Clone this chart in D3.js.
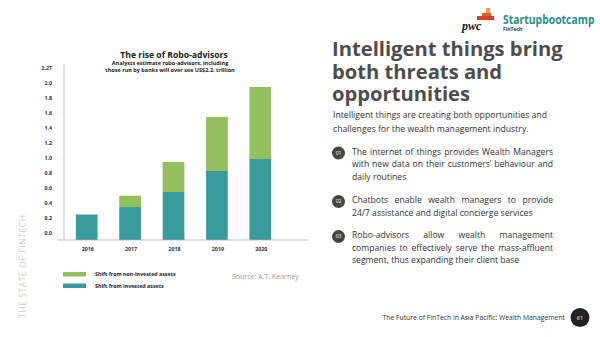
<!DOCTYPE html>
<html lang="en">
<head>
<meta charset="utf-8">
<title>The rise of Robo-advisors</title>
<style>
  body { margin: 0; background: #fff; }
  svg { display: block; font-family: "Open Sans", sans-serif; }
</style>
</head>
<body>
<svg id="page" width="600" height="337"></svg>
<script src="https://cdn.jsdelivr.net/npm/d3@7"></script>
<script>
  // chart data (trillions US$)
  var years = ["2016", "2017", "2018", "2019", "2020"];
  var invested = [0.34, 0.44, 0.64, 0.92, 1.08];
  var nonInvested = [0.0, 0.15, 0.40, 0.72, 0.96];
  var tickValues = [0, 0.2, 0.4, 0.6, 0.8, 1.0, 1.2, 1.4, 1.6, 1.8, 2.0, 2.2];
  var tickLabels = ["0.0", "0.2", "0.4", "0.6", "0.8", "1.0", "1.2", "1.4", "1.6", "1.8", "2.0", "2.2T"];
  var seriesNames = ["Shift from non-invested assets", "Shift from invested assets"];

  var teal = "#3a9b9c", green = "#94bf5f";

  var svg = d3.select("#page");

  // ---- chart ----
  var x = d3.scaleBand()
    .domain(years)
    .range([65, 282])
    .paddingInner(0.5)
    .paddingOuter(0.25);

  var y = d3.scaleLinear()
    .domain([0, 2.2])
    .range([240, 75]);

  var rows = years.map((yr, i) => ({year: yr, invested: invested[i], nonInvested: nonInvested[i]}));
  var stack = d3.stack().keys(["invested", "nonInvested"])(rows);

  // left axis line
  svg.append("line")
    .attr("x1", 64).attr("x2", 64)
    .attr("y1", 64).attr("y2", 240)
    .attr("stroke", "#c8c8c8").attr("stroke-width", 1);

  svg.append("g")
    .selectAll("text")
    .data(tickValues)
    .join("text")
    .attr("x", 52)
    .attr("y", d => y(d) - 5)
    .attr("text-anchor", "end")
    .attr("font-size", 5.3)
    .attr("font-weight", "bold")
    .attr("fill", "#333")
    .text((d, i) => tickLabels[i]);

  svg.append("g")
    .selectAll("g")
    .data(stack)
    .join("g")
    .attr("fill", (d, i) => i == 0 ? teal : green)
    .selectAll("rect")
    .data(d => d)
    .join("rect")
    .attr("x", d => x(d.data.year))
    .attr("width", x.bandwidth())
    .attr("y", d => y(d[1]))
    .attr("height", d => y(d[0]) - y(d[1]));

  // baseline
  svg.append("line")
    .attr("x1", 57).attr("x2", 308)
    .attr("y1", 240).attr("y2", 240)
    .attr("stroke", "#b0b0b0").attr("stroke-width", 0.8);

  svg.append("g")
    .selectAll("text")
    .data(years)
    .join("text")
    .attr("x", d => x(d) + x.bandwidth() / 2 + 1)
    .attr("y", 251)
    .attr("text-anchor", "middle")
    .attr("font-size", 5.3)
    .attr("font-weight", "bold")
    .attr("fill", "#333")
    .text(d => d);

  // title
  svg.append("text")
    .attr("x", 174).attr("y", 57.5)
    .attr("text-anchor", "middle")
    .attr("font-size", 8.6).attr("font-weight", "bold").attr("fill", "#222")
    .text("The rise of Robo-advisors");
  svg.append("text")
    .attr("x", 170).attr("y", 65)
    .attr("text-anchor", "middle")
    .attr("font-size", 5.5).attr("font-weight", "bold").attr("fill", "#222")
    .text("Analysts estimate robo-advisors, including");
  svg.append("text")
    .attr("x", 170).attr("y", 71.5)
    .attr("text-anchor", "middle")
    .attr("font-size", 5.5).attr("font-weight", "bold").attr("fill", "#222")
    .text("those run by banks will over see US$2.2. trillion");

  // legend
  var leg = svg.append("g").selectAll("g")
    .data(seriesNames)
    .join("g")
    .attr("transform", (d, i) => "translate(63," + (272 + i * 11.5) + ")");
  leg.append("rect")
    .attr("width", 23).attr("height", 4.5)
    .attr("fill", (d, i) => i == 0 ? green : teal);
  leg.append("text")
    .attr("x", 32).attr("y", 4)
    .attr("font-size", 5.3).attr("font-weight", "bold").attr("fill", "#222")
    .text(d => d);

  svg.append("text")
    .attr("x", 232).attr("y", 279)
    .attr("font-size", 7).attr("fill", "#999")
    .text("Source: A.T. Kearney");

  // side label
  svg.append("text")
    .attr("transform", "translate(26,318) rotate(-90)")
    .attr("font-size", 8.5).attr("fill", "#d0d0d0")
    .attr("letter-spacing", 0.6)
    .text("THE STATE OF FINTECH");

  // ---- right column ----
  var heading = ["Intelligent things bring", "both threats and", "opportunities"];
  svg.append("text")
    .attr("font-size", 20.2).attr("font-weight", "bold").attr("fill", "#4d4d4d")
    .selectAll("tspan")
    .data(heading)
    .join("tspan")
    .attr("x", 332)
    .attr("y", (d, i) => 56 + i * 22.5)
    .text(d => d);

  var intro = ["Intelligent things are creating both opportunities and",
               "challenges for the wealth management industry."];
  svg.append("g").selectAll("text")
    .data(intro)
    .join("text")
    .attr("x", 333)
    .attr("y", (d, i) => 118 + i * 13.5)
    .attr("font-size", 8.7).attr("fill", "#333")
    .text(d => d);

  var bullets = [
    {num: "01", cy: 153, lines: ["The internet of things provides Wealth Managers",
                                "with new data on their customers\u2019 behaviour and",
                                "daily routines"]},
    {num: "02", cy: 201.5, lines: ["Chatbots enable wealth managers to provide",
                                  "24/7 assistance and digital concierge services"]},
    {num: "03", cy: 236.5, lines: ["Robo-advisors allow wealth management",
                                  "companies to effectively serve the mass-affluent",
                                  "segment, thus expanding their client base"]}
  ];
  var textLeft = 352, textRight = 553;

  var b = svg.append("g").selectAll("g")
    .data(bullets)
    .join("g");
  b.append("circle")
    .attr("cx", 338.5).attr("cy", d => d.cy)
    .attr("r", 6.5).attr("fill", "#454545");
  b.append("text")
    .attr("x", 338.5).attr("y", d => d.cy + 1.8)
    .attr("text-anchor", "middle")
    .attr("font-size", 5).attr("fill", "#fff")
    .text(d => d.num);
  b.each(function(d) {
    var g = d3.select(this);
    d.lines.forEach((ln, i) => {
      var t = g.append("text")
        .attr("x", textLeft)
        .attr("y", d.cy + 1.5 + i * 12.5)
        .attr("font-size", 8.6).attr("fill", "#333")
        .text(ln);
      // justify every line except the last of the paragraph
      if (i < d.lines.length - 1) {
        var w = t.node().getComputedTextLength();
        var gaps = ln.split(" ").length - 1;
        var extra = (textRight - textLeft - w) / gaps;
        if (gaps > 0 && extra > 0) t.attr("word-spacing", extra);
      }
    });
  });

  // footer
  svg.append("text")
    .attr("x", 565).attr("y", 320)
    .attr("text-anchor", "end")
    .attr("font-size", 6.8).attr("fill", "#333")
    .text("The Future of FinTech in Asia Pacific: Wealth Management");
  svg.append("circle")
    .attr("cx", 580).attr("cy", 317.5).attr("r", 9.5).attr("fill", "#222");
  svg.append("text")
    .attr("x", 580).attr("y", 319.5)
    .attr("text-anchor", "middle")
    .attr("font-size", 5.5).attr("fill", "#fff")
    .text("61");

  // logos
  var logo = svg.append("g");
  logo.append("rect").attr("x", 486).attr("y", 8).attr("width", 4).attr("height", 8).attr("fill", "#e8a33c");
  logo.append("rect").attr("x", 482).attr("y", 13).attr("width", 9).attr("height", 6).attr("fill", "#e0602a");
  logo.append("rect").attr("x", 477).attr("y", 16).attr("width", 17).attr("height", 4).attr("fill", "#d93f26");
  logo.append("text")
    .attr("x", 462).attr("y", 30)
    .attr("font-family", "Liberation Serif, serif")
    .attr("font-size", 12).attr("font-weight", "bold").attr("font-style", "italic").attr("fill", "#222")
    .text("pwc");
  logo.append("text")
    .attr("transform", "translate(503,23.5) scale(0.8,1)")
    .attr("font-size", 13).attr("font-weight", "bold").attr("fill", "#2a8e8b")
    .text("Startupbootcamp");
  logo.append("text")
    .attr("x", 503).attr("y", 31)
    .attr("font-size", 5).attr("font-weight", "bold").attr("fill", "#333")
    .text("FinTech");
</script>
</body>
</html>
